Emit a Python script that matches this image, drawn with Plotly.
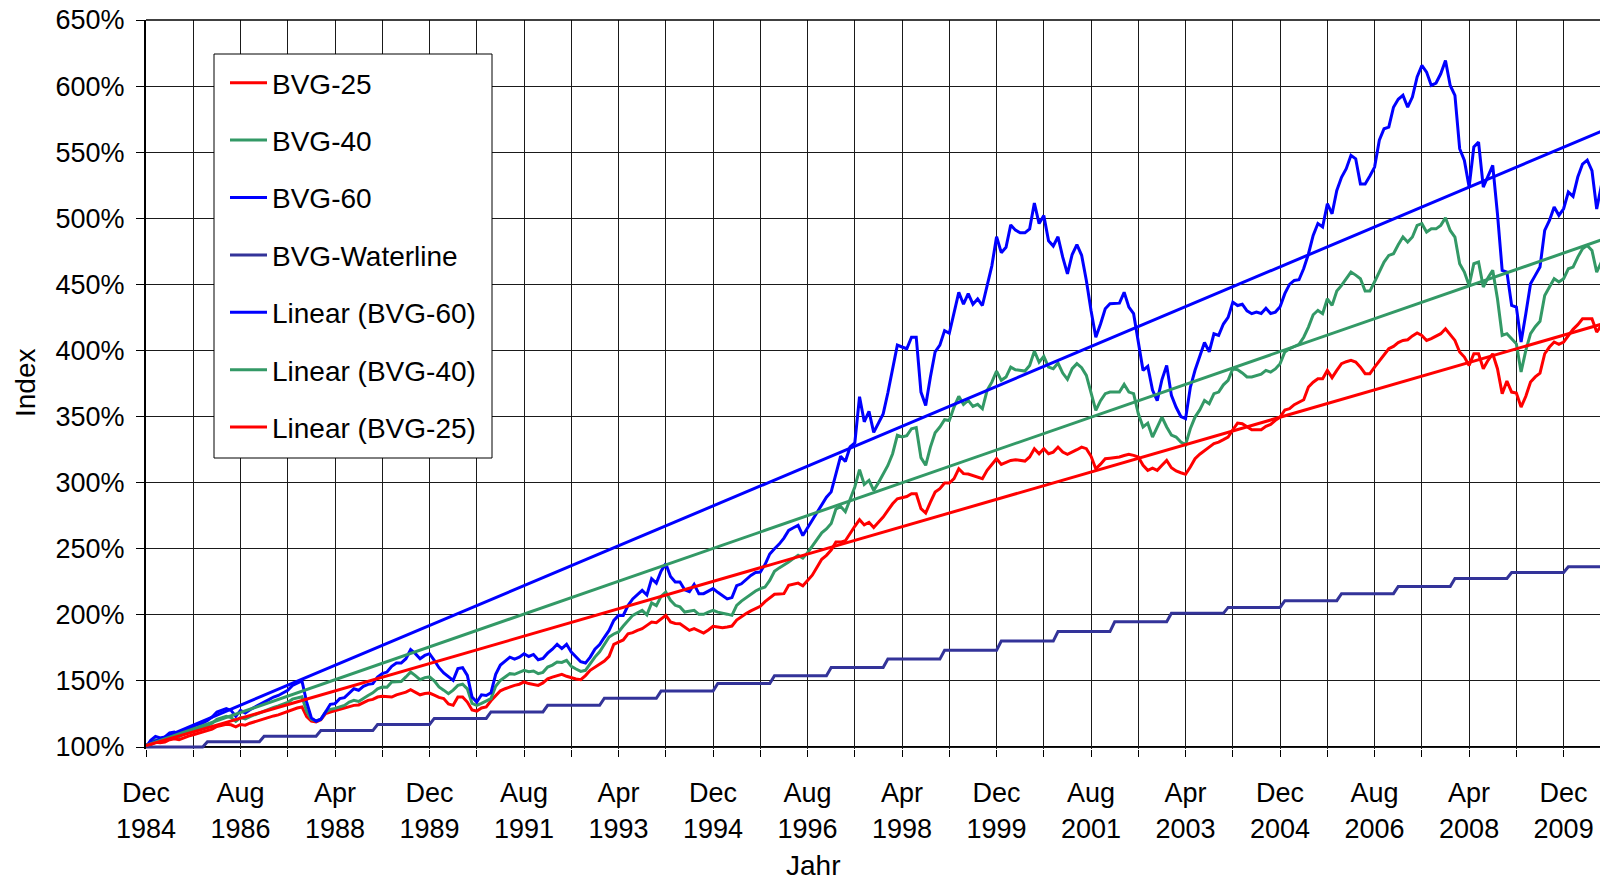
import numpy as np
import plotly.graph_objects as go

# ---------------- data (monthly, Dec 1984 .. Aug 2010, index in % of Dec 1984) ----------------
first_month = "Dec 1984"

bvg60 = [100,
    105, 108, 106.8, 107.6, 110.6, 111.3, 109.6, 112, 113.9, 115.6, 117, 118,              # 1985
    120, 122.7, 126.5, 127.7, 129, 127.7, 123.2, 127.7, 125.7, 128.2, 130.3, 132.3,        # 1986
    134, 135.8, 137.8, 139, 140.8, 142.9, 146.6, 148.4, 150, 134, 122, 119.5,              # 1987
    121, 126.5, 132.3, 132.8, 136.6, 137.3, 140.8, 144.1, 142.9, 145.9, 147.4, 147.9,      # 1988
    152.9, 155.5, 156.7, 161, 163.5, 163.5, 166.8, 173.6, 170.6, 166.8, 169.3, 170.6,      # 1989
    165.6, 160, 156, 153, 150.4, 159.3, 160, 154.2, 137.8, 134, 139.5, 139,                # 1990
    141, 155, 162, 165, 168, 166.5, 168, 170.6, 168.5, 170, 166, 167,                      # 1991
    171, 174, 177.7, 174.5, 177.7, 171.9, 168, 164.5, 163.5, 168, 174, 177.5,              # 1992
    183, 188.2, 195.8, 199.6, 199.5, 207, 212, 215, 218.5, 215, 227.3, 224,                # 1993
    233, 238.7, 229, 224.8, 224.8, 219, 217.5, 223, 216, 216, 218, 219.8,                  # 1994
    217, 214.7, 212, 213, 222, 223.5, 227, 229.8, 232, 232.4, 238, 246,                    # 1995
    250, 253.5, 258, 263.9, 265.9, 267.7, 260, 266, 271, 278, 284, 289,                    # 1996
    293, 307, 320, 316, 327, 330, 365, 346, 354, 338, 345, 352,                            # 1997
    368, 385, 404, 402.6, 401.3, 410, 410, 368.5, 358.4, 380, 399, 404,                    # 1998
    415, 413, 429, 444, 435, 443, 435, 439, 434, 448, 464, 486,                            # 1999
    474, 478, 495, 491, 489, 489, 492, 511.5, 496, 502, 483, 479,                          # 2000
    486, 470.6, 458, 472.6, 480, 472, 453, 430, 410, 420, 431.6, 435.3,                    # 2001
    435.5, 435.8, 444, 432.8, 427.8, 405, 384.9, 388, 370, 362, 378, 388.7,                # 2002
    366, 357, 350, 348.4, 372, 385, 395, 406, 399, 412.6, 411.4, 420,                      # 2003
    425, 436.6, 434, 435, 430, 427.8, 429, 428, 432, 428, 429, 433,                        # 2004
    443, 450, 453, 453.5, 462, 473, 487, 496, 493.4, 511, 503.4, 521,                      # 2005
    531, 537.5, 547.6, 545, 526, 526, 532, 538.7, 559, 567.7, 569, 584,                    # 2006
    590, 593, 584, 591.7, 607, 615.6, 610.6, 600.5, 602.3, 609.3, 619.4, 600.5,            # 2007
    593, 552.6, 543.8, 523.6, 553.9, 557.6, 523.6, 531.2, 540, 503.4, 460.6, 459.3,        # 2008
    434.1, 432.8, 406.4, 427.8, 450.5, 456.8, 463.1, 490.8, 498.4, 508.5, 502.2, 507.2,    # 2009
    519.8, 516.5, 531.2, 541, 544, 536, 507, 525]                                          # 2010

bvg40 = [100,
    103.5, 105.5, 105, 105.8, 108, 108.8, 107.8, 109.8, 111.2, 112.5, 113.8, 114.5,
    116.2, 118, 121, 122, 123.2, 122.3, 119.5, 122.3, 121.2, 123, 124.5, 126,
    127.3, 128.5, 130, 131, 132.3, 133.8, 136.2, 137.2, 138, 127, 121, 119.7,
    121, 126.5, 128.5, 129.2, 130.3, 131.5, 134, 135.3, 134.5, 137, 139, 141,
    144, 145.4, 145.2, 149.2, 149.5, 149.5, 153, 156.7, 154, 150.9, 152.5, 153,
    150, 145.4, 143, 140.3, 143, 146.6, 147.5, 144, 133, 131.5, 133, 134.5,
    136.6, 146, 150.4, 153, 155.5, 155, 156.5, 158, 157, 157.5, 155.5, 156.5,
    160.5, 162, 164.3, 164, 165.6, 161, 159, 157.2, 158, 163, 168, 172,
    178, 183.2, 185.5, 187, 191.5, 196, 199.6, 201.5, 203.4, 200, 209, 207,
    214, 217.2, 211, 207.2, 206, 202.1, 203, 203.4, 200.4, 200.4, 202, 203.4,
    202, 201.4, 200.5, 199.6, 207.2, 210.4, 213, 215.5, 218, 219.8, 221, 226,
    233, 235.5, 237.5, 240, 242.5, 245, 243, 247, 252, 257, 262, 265,
    269, 280, 282, 278, 288, 296.7, 309.8, 298.7, 301.7, 294.1, 300, 306,
    313, 321.9, 335.8, 334.5, 335.5, 340.8, 341.6, 318.9, 313.1, 326.9, 337.8, 342.1,
    347.6, 347, 357.2, 365.3, 359.2, 362.2, 357.7, 359.2, 355.9, 369.8, 376, 384.4,
    377.4, 379.9, 387.4, 385.4, 385, 384.4, 388.7, 399.5, 391.2, 395.5, 387.4, 386.2,
    390.5, 382.9, 378.1, 386.2, 390, 387, 381.1, 368, 354.7, 362, 367.3, 368.5,
    368.5, 368.5, 374.3, 368.5, 367.3, 352.1, 342.1, 345, 334.5, 342, 349.6, 342.1,
    336, 334.5, 330.7, 328.7, 340.8, 349.6, 355, 362.2, 359.7, 367.3, 368.5, 374,
    377.4, 386.2, 385.4, 383, 380, 379.9, 381.1, 382, 384.9, 383.6, 386, 390,
    398.8, 401.3, 403, 404.6, 410, 417.7, 427, 430.3, 427.8, 439.1, 434.1, 445,
    449.2, 454.3, 459.3, 457, 454.3, 444.9, 444.9, 452, 460, 466.9, 471.9, 473.2,
    480, 485.8, 482, 485.8, 494.6, 495.9, 489.6, 492.1, 492, 494.6, 500.4, 490.8,
    485.8, 465.6, 459.3, 449.2, 465.6, 466.9, 448, 455, 460.6, 439.1, 411.4, 412.7,
    408.9, 405, 383.7, 400, 412.7, 418, 422, 441.6, 448, 454.3, 451.8, 454.3,
    461.8, 463.1, 470.6, 477, 479.5, 475.7, 459.3, 466.9]

bvg25 = [100,
    102, 103.5, 103.2, 103.8, 105.5, 106.2, 105.5, 107, 108.2, 109.3, 110.3, 111,
    112.2, 113.5, 115.5, 116.3, 117.2, 116.8, 115.2, 117, 116.5, 118, 119.2, 120.3,
    121.2, 122.3, 123.5, 124.3, 125.5, 126.8, 128.5, 129.5, 130.3, 123, 119.5, 118.9,
    120.5, 125.2, 126.5, 127.5, 129, 129.8, 131, 131.5, 131.8, 133.5, 135.3, 136,
    137.8, 138.3, 138, 137.8, 139.5, 140.5, 141.5, 143.4, 141.5, 139.5, 140.5, 140.8,
    139.2, 137.5, 136.6, 132.5, 131.5, 137.8, 137.8, 134, 128, 127.2, 129.5, 130.3,
    135, 139.1, 142.5, 144.1, 145.5, 146.6, 147.5, 149.2, 148, 147.5, 146.6, 148.5,
    151.5, 152.9, 154, 155, 153.5, 152.4, 151.5, 150.9, 154, 158, 160.5, 162.5,
    165, 168.6, 177.7, 179.4, 181, 185.7, 186.5, 188.2, 189.5, 192, 194.6, 194,
    197, 199.6, 194.6, 193.5, 193.3, 190.5, 188.2, 189.5, 188, 186.2, 188.5, 191.3,
    190.8, 190.3, 190.8, 191.5, 196, 198.8, 200.9, 203, 204.6, 206.4, 210, 213,
    215.5, 215.8, 216, 222.3, 223, 224, 222, 226, 230, 236, 242, 245,
    249, 255, 255, 256, 262, 267, 272, 268, 270, 266, 270, 274,
    279, 284, 287.8, 288.6, 289.5, 291.6, 291.6, 280.3, 277, 285.3, 292.9, 295.4,
    299.7, 299.7, 303, 310.5, 306.8, 306.5, 305.5, 304, 303, 309.3, 313.5, 318.1,
    313.8, 315.5, 316.8, 317.3, 317, 316.3, 319.4, 325.7, 321.9, 325.7, 321.9, 323.1,
    326.9, 323.1, 321.4, 323, 324.9, 326.9, 325.7, 319.9, 310.5, 314, 318.1, 318.5,
    318.9, 319.4, 320.5, 321.4, 320.6, 319.4, 313.1, 309.3, 311, 309.3, 313.1, 316.8,
    311.3, 308.8, 307.5, 306.3, 311.8, 318.1, 321.5, 323.9, 326.9, 329.5, 330.7, 332.5,
    334.5, 340, 345.1, 344.6, 342, 340, 340, 340, 342.6, 344, 347.1, 349.6,
    355, 355.9, 359, 361, 362.7, 372.3, 376, 378.6, 378.6, 384.9, 379.4, 384.9,
    390, 391.5, 392.5, 391.2, 387.4, 382.4, 382.4, 387.4, 392, 396.3, 401.3, 403.1,
    406, 407.6, 408.1, 411, 413.2, 411.4, 407.6, 409, 410.6, 412.7, 416.4, 412.2,
    407.6, 398.8, 395, 388.7, 397.5, 397.5, 386.2, 392.5, 397.5, 386.2, 367.3, 376.8,
    368.5, 367.8, 357.2, 365.3, 376.1, 380, 382.9, 397.5, 402.6, 406.4, 404.6, 406.4,
    411.4, 416, 419.5, 424, 424, 424, 413.9, 419]

# BVG waterline: one level per calendar year (Dec 1984 start = 100 %)
waterline_start = 100
waterline_years = list(range(1985, 2011))
waterline_levels = [100, 104.0, 108.2, 112.4, 117.0, 121.6, 126.5, 131.5, 136.9, 142.3,
                    148.0, 153.9, 160.1, 166.5, 173.2, 180.1, 187.3, 194.7, 201.1, 205.6,
                    210.7, 216.0, 221.4, 227.5, 232.0, 236.4]

# x-axis: ticks every 10 months, labels every 20 months
tick_labels = ["Dec<br>1984", "Aug<br>1986", "Apr<br>1988", "Dec<br>1989", "Aug<br>1991",
               "Apr<br>1993", "Dec<br>1994", "Aug<br>1996", "Apr<br>1998", "Dec<br>1999",
               "Aug<br>2001", "Apr<br>2003", "Dec<br>2004", "Aug<br>2006", "Apr<br>2008",
               "Dec<br>2009"]
y_ticks = [100, 150, 200, 250, 300, 350, 400, 450, 500, 550, 600, 650]

# ---------------- derived ----------------
n = len(bvg60)
x = list(range(n))
waterline = [waterline_start]
for lvl in waterline_levels:
    waterline += [lvl] * 12
waterline = waterline[:n]


def linear_trend(vals):
    """Excel-style linear trendline (x = 1..n, intercept fixed at 100 %)."""
    k = np.arange(1, len(vals) + 1, dtype=float)
    d = np.asarray(vals, dtype=float) - 100.0
    slope = float((k * d).sum() / (k * k).sum())
    return [0, len(vals) - 1], [100.0 + slope * 1, 100.0 + slope * len(vals)]


RED, GREEN, BLUE, NAVY = "#FF0000", "#339966", "#0000FF", "#333399"
FONT = "Liberation Sans, Arial, sans-serif"
LW = 3

W, H = 1600, 880
L, R, T, B = 146, 0, 20, 131          # plot area: x 146..1600, y 20..749
px_per_pct = 727 / 550                # 100 % at y=747, 650 % at y=20
y_lo = 100 - 2 / px_per_pct
x_hi = 307.7

fig = go.Figure()
series = [("BVG-25", bvg25, RED), ("BVG-40", bvg40, GREEN), ("BVG-60", bvg60, BLUE),
          ("BVG-Waterline", waterline, NAVY)]
for name, vals, col in series:
    fig.add_trace(go.Scatter(x=x, y=vals, mode="lines", name=name, legendgroup=name,
                             line=dict(color=col, width=LW)))
for name, vals, col in [("Linear (BVG-60)", bvg60, BLUE), ("Linear (BVG-40)", bvg40, GREEN),
                        ("Linear (BVG-25)", bvg25, RED)]:
    tx, ty = linear_trend(vals)
    fig.add_trace(go.Scatter(x=tx, y=ty, mode="lines", name=name, legendgroup=name,
                             line=dict(color=col, width=LW)))

grid_vals = list(range(0, 301, 10))
grid_text = [tick_labels[i // 2] if i % 2 == 0 else "" for i in range(len(grid_vals))]

pw = W - L - R
ph = H - T - B


def px_x(px):
    return (px - L) / pw


def px_y(py):
    return (H - B - py) / ph


fig.update_layout(
    width=W, height=H, template="none",
    margin=dict(l=L, r=R, t=T, b=B, pad=0),
    paper_bgcolor="white", plot_bgcolor="white",
    font=dict(family=FONT, size=27, color="black"),
    showlegend=True,
    legend=dict(x=px_x(225), y=px_y(58), xanchor="left", yanchor="top",
                bgcolor="rgba(0,0,0,0)", borderwidth=0,
                font=dict(family=FONT, size=28, color="black"),
                traceorder="grouped", tracegroupgap=18, itemwidth=37),
    xaxis=dict(range=[0, x_hi], tickmode="array", tickvals=grid_vals, ticktext=grid_text,
               showgrid=True, gridcolor="#1a1a1a", gridwidth=1, zeroline=False,
               showline=False, ticks="outside", ticklen=7, tickcolor="black", tickwidth=1,
               tickfont=dict(family=FONT, size=27, color="black"), ticklabelstandoff=13,
               automargin=False),
    yaxis=dict(range=[y_lo, 650], tickmode="array", tickvals=y_ticks,
               ticktext=[f"{v}%" for v in y_ticks],
               showgrid=True, gridcolor="#1a1a1a", gridwidth=1, zeroline=False,
               showline=True, linecolor="black", linewidth=2, mirror=False,
               ticks="outside", ticklen=8, tickcolor="black", tickwidth=1,
               tickfont=dict(family=FONT, size=27, color="black"), ticklabelstandoff=6,
               automargin=False),
    shapes=[
        # 100 % axis line and top border
        dict(type="line", xref="paper", yref="y", x0=0, x1=1, y0=100, y1=100,
             line=dict(color="black", width=2), layer="below"),
        dict(type="line", xref="paper", yref="paper", x0=0, x1=1, y0=1, y1=1,
             line=dict(color="black", width=1.5), layer="above"),
        # legend frame
        dict(type="rect", xref="paper", yref="paper", x0=px_x(214), x1=px_x(492),
             y0=px_y(458), y1=px_y(54), fillcolor="white",
             line=dict(color="black", width=1), layer="above"),
    ],
    annotations=[
        dict(text="Index", xref="paper", yref="paper", x=px_x(26), y=px_y(383),
             xanchor="center", yanchor="middle", textangle=-90, showarrow=False,
             font=dict(family=FONT, size=28, color="black")),
        dict(text="Jahr", xref="paper", yref="paper", x=px_x(813), y=px_y(865),
             xanchor="center", yanchor="middle", showarrow=False,
             font=dict(family=FONT, size=28, color="black")),
    ],
)

fig.write_html("out.html",
               config={"displayModeBar": False},
               post_script="document.body.style.margin='0px';"
                           "document.body.style.overflow='hidden';")
